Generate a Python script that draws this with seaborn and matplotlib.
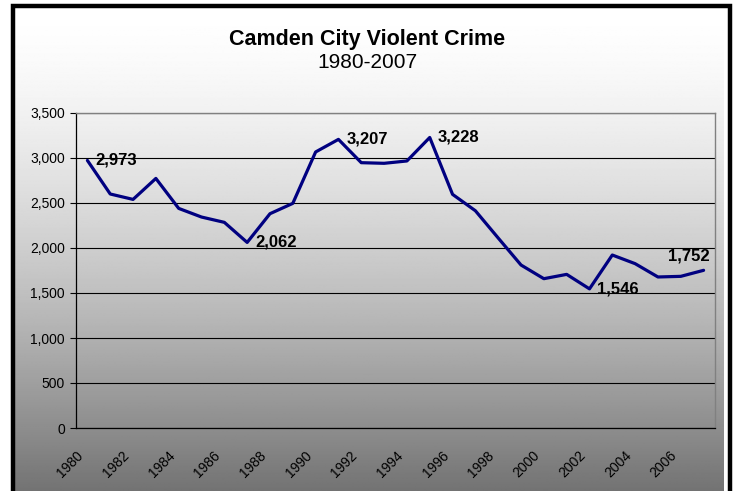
import numpy as np
import matplotlib
matplotlib.use("Agg")
import matplotlib.pyplot as plt
from matplotlib.patches import Rectangle
from matplotlib.ticker import FuncFormatter
from matplotlib.transforms import ScaledTranslation
import seaborn as sns

# data
years = list(range(1980, 2008))
violent = [2973, 2600, 2540, 2773, 2440, 2344, 2285, 2062, 2381, 2496,
           3067, 3207, 2948, 2941, 2967, 3228, 2596, 2414, 2111, 1811,
           1659, 1707, 1546, 1922, 1826, 1678, 1685, 1752]
labelled = {1980: 2973, 1987: 2062, 1991: 3207, 1995: 3228, 2002: 1546, 2007: 1752}
year_labels = list(range(1980, 2007, 2))

sns.set_style("white")
plt.rcParams['font.family'] = ['Liberation Sans', 'DejaVu Sans']
plt.rcParams['text.color'] = 'black'
plt.rcParams['xtick.color'] = 'black'
plt.rcParams['ytick.color'] = 'black'

W, H = 735, 491
fig = plt.figure(figsize=(W / 100, H / 100), dpi=100)
fig.patch.set_facecolor("white")

# gradient background (white at top -> gray at bottom)
bg = fig.add_axes([15 / W, 0, (724 - 15) / W, (H - 8) / H], zorder=0)
frac = np.linspace(0, 1, 400)[:, None]
shade = 1.0 - (140 / 255) * frac ** 1.5
bg.imshow(np.repeat(shade, 2, axis=1), cmap="gray", vmin=0, vmax=1,
          aspect="auto", extent=[0, 1, 0, 1])
bg.set_axis_off()

# outer frame
fig.patches.append(Rectangle((13 / W, -0.05), (730 - 13) / W, (H - 6) / H + 0.05,
                             transform=fig.transFigure, fill=False,
                             edgecolor="black", linewidth=3.2, zorder=5))

ax = fig.add_axes([76 / W, (H - 428) / H, (715 - 76) / W, (428 - 113) / H], zorder=2)
ax.set_facecolor("none")

sns.lineplot(x=years, y=violent, color="#000080", linewidth=2.3, ax=ax)

for yr, val in labelled.items():
    if yr == 2007:
        ax.annotate(f"{val:,}", (yr, val), xytext=(6, 14), textcoords="offset pixels",
                    ha="right", va="center", fontsize=12, fontweight="bold", color="black")
    else:
        ax.annotate(f"{val:,}", (yr, val), xytext=(8, 0), textcoords="offset pixels",
                    ha="left", va="center", fontsize=12, fontweight="bold", color="black")

ax.set_xlim(1979.5, 2007.5)
ax.set_ylim(0, 3500)
ax.set_yticks(range(0, 3501, 500))
ax.yaxis.set_major_formatter(FuncFormatter(lambda v, p: f"{int(v):,}"))
ax.grid(axis="y", color="black", linewidth=0.8)
ax.set_axisbelow(True)

ax.set_xticks(year_labels)
ax.set_xticklabels([str(y) for y in year_labels], rotation=45, ha="right",
                   rotation_mode="anchor", fontsize=10)
ax.set_xticks(np.arange(1979.5, 2008, 1), minor=True)
ax.tick_params(axis="x", which="major", length=0, pad=9)
ax.tick_params(axis="x", which="minor", length=4, width=0.8, color="black", direction="out")
ax.tick_params(axis="y", length=4, width=0.8, color="black", direction="out",
               labelsize=10, pad=4, left=True)

for s in ["left", "bottom"]:
    ax.spines[s].set_color("black")
    ax.spines[s].set_linewidth(0.9)
for s in ["top", "right"]:
    ax.spines[s].set_visible(True)
    ax.spines[s].set_color("#808080")
    ax.spines[s].set_linewidth(1.0)

ax.set_xlabel("")
ax.set_ylabel("")

# nudge the slanted year labels down-left like the original
shift = ScaledTranslation(-11 / 100, -8 / 100, fig.dpi_scale_trans)
for lab in ax.xaxis.get_majorticklabels():
    lab.set_transform(lab.get_transform() + shift)

fig.text(0.5, (H - 40) / H, "Camden City Violent Crime", ha="center", va="center",
         fontsize=15.5, fontweight="bold")
fig.text(0.5, (H - 62) / H, "1980-2007", ha="center", va="center", fontsize=15)

fig.savefig("out.png", dpi=100)
